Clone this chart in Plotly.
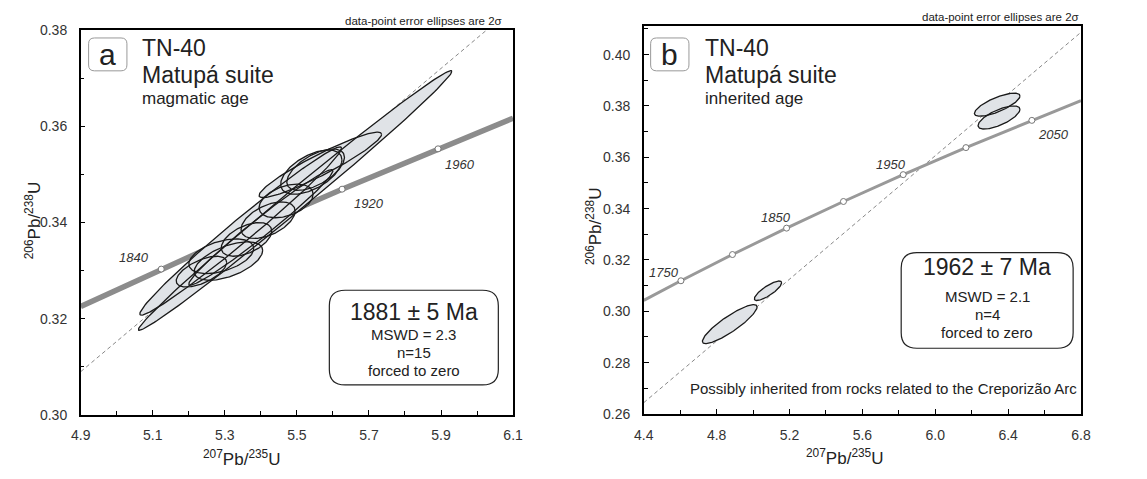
import numpy as np
import plotly.graph_objects as go

W, H = 1147, 479

# ---------------- DATA ----------------
# Panel a: ellipse centres (207Pb/235U, 206Pb/238U), half-extents (2 sigma) and error correlation
a_x   = [5.495, 5.344, 5.400, 5.565, 5.540, 5.552, 5.470, 5.420, 5.360, 5.290, 5.310, 5.235]
a_ex  = [0.435, 0.280, 0.200, 0.170, 0.085, 0.080, 0.075, 0.075, 0.070, 0.090, 0.095, 0.070]
a_y   = [0.3446, 0.33825, 0.3390, 0.3520, 0.3505, 0.3510, 0.3445, 0.3405, 0.3365, 0.3330, 0.3320, 0.3298]
a_ey  = [0.0270, 0.0175, 0.0120, 0.0068, 0.0046, 0.0043, 0.0035, 0.0038, 0.0035, 0.0036, 0.0040, 0.0032]
a_rho = [0.9946, 0.985, 0.98, 0.935, 0.55, 0.60, 0.40, 0.50, 0.50, 0.45, 0.55, 0.60]

# Panel b ellipses
b_x   = [4.872, 5.082, 6.350, 6.340]
b_ex  = [0.150, 0.075, 0.115, 0.125]
b_y   = [0.2950, 0.3080, 0.3755, 0.3805]
b_ey  = [0.0076, 0.0038, 0.0045, 0.0045]
b_rho = [0.88, 0.82, 0.70, 0.75]

# Concordia curve points (207Pb/235U, 206Pb/238U)
conc_a_x = [4.9, 5.1234, 5.3695, 5.6254, 5.8917, 6.1]
conc_a_y = [0.32257, 0.33033, 0.33862, 0.34695, 0.35534, 0.36170]
conc_b_x = [4.4, 4.6040, 4.8869, 5.1840, 5.4962, 5.8241, 6.1685, 6.5304, 6.8]
conc_b_y = [0.30425, 0.31189, 0.32211, 0.33240, 0.34278, 0.35323, 0.36377, 0.37438, 0.38202]

# Concordia age ticks
tick_a_age = [1840, 1880, 1920, 1960]
tick_a_x = [5.1234, 5.3695, 5.6254, 5.8917]
tick_a_y = [0.33033, 0.33862, 0.34695, 0.35534]
tick_b_age = [1750, 1800, 1850, 1900, 1950, 2000, 2050]
tick_b_x = [4.6040, 4.8869, 5.1840, 5.4962, 5.8241, 6.1685, 6.5304]
tick_b_y = [0.31189, 0.32211, 0.33240, 0.34278, 0.35323, 0.36377, 0.37438]
label_a_ages = [1840, 1920, 1960]
label_b_ages = [1750, 1850, 1950, 2050]

# Discordia (forced through zero)
disc_a_x = [4.9, 6.026]
disc_a_y = [0.3090, 0.3800]
disc_b_x = [4.4, 6.8]
disc_b_y = [0.2644, 0.4087]

FONT = "Liberation Sans, Arial, sans-serif"
FILL = "#e0e3e7"

def ell(cx, cy, ex, ey, rho, n=160):
    t = np.linspace(0, 2 * np.pi, n)
    x = cx + ex * np.cos(t)
    y = cy + ey * (rho * np.cos(t) + np.sqrt(1 - rho ** 2) * np.sin(t))
    return x, y

fig = go.Figure()

def panel(xs, exs, ys, eys, rhos, cx, cy, tx, ty, dx, dy, xa, ya, cw, ccol):
    fig.add_trace(go.Scatter(x=dx, y=dy, mode="lines", xaxis=xa, yaxis=ya,
                             line=dict(color="#888", width=1, dash="4px,3px"), hoverinfo="skip"))
    fig.add_trace(go.Scatter(x=cx, y=cy, mode="lines", xaxis=xa, yaxis=ya,
                             line=dict(color=ccol, width=cw), hoverinfo="skip"))
    fig.add_trace(go.Scatter(x=tx, y=ty, mode="markers", xaxis=xa, yaxis=ya,
                             marker=dict(symbol="circle", size=6, color="white",
                                         line=dict(color="#777", width=1)), hoverinfo="skip"))
    for i in range(len(xs)):
        ex_, ey_ = ell(xs[i], ys[i], exs[i], eys[i], rhos[i])
        fig.add_trace(go.Scatter(x=ex_, y=ey_, mode="lines", fill="toself", fillcolor=FILL,
                                 line=dict(width=0), xaxis=xa, yaxis=ya, hoverinfo="skip"))
    for i in range(len(xs)):
        ex_, ey_ = ell(xs[i], ys[i], exs[i], eys[i], rhos[i])
        fig.add_trace(go.Scatter(x=ex_, y=ey_, mode="lines",
                                 line=dict(width=1.3, color="#1a1a1a"), xaxis=xa, yaxis=ya, hoverinfo="skip"))

panel(a_x, a_ex, a_y, a_ey, a_rho, conc_a_x, conc_a_y, tick_a_x, tick_a_y,
      disc_a_x, disc_a_y, "x", "y", 5.5, "#8c8c8c")
panel(b_x, b_ex, b_y, b_ey, b_rho, conc_b_x, conc_b_y, tick_b_x, tick_b_y,
      disc_b_x, disc_b_y, "x2", "y2", 3, "#999999")

def px(x):
    return x / W

def py(y):
    return 1 - y / H

def axis(dom, rng, dtick, minor, fmt, standoff):
    return dict(domain=dom, range=rng, dtick=dtick, tick0=rng[0], tickformat=fmt,
                ticks="inside", ticklen=5, tickcolor="black", tickwidth=1,
                minor=dict(dtick=minor, ticks="inside", ticklen=4, tickcolor="black", tickwidth=1),
                showline=True, mirror=True, linecolor="black", linewidth=1.5,
                showgrid=False, zeroline=False,
                tickfont=dict(family=FONT, size=14, color="#333"), ticklabelstandoff=standoff)

fig.update_layout(
    width=W, height=H, margin=dict(l=0, r=0, t=0, b=0),
    paper_bgcolor="white", plot_bgcolor="white", showlegend=False,
    xaxis=axis([px(72), px(512)], [4.9, 6.1], 0.2, 0.1, ".1f", 7),
    yaxis=axis([py(421), py(23)], [0.30, 0.38], 0.02, 0.01, ".2f", 9),
    xaxis2=axis([px(645), px(1090)], [4.4, 6.8], 0.4, 0.2, ".1f", 7),
    yaxis2=axis([py(420), py(19)], [0.26, 0.411], 0.02, 0.01, ".2f", 9),
)
fig.layout.xaxis2.anchor = "y2"
fig.layout.yaxis2.anchor = "x2"

def rrect(x0, y0, x1, y1, r, color, width):
    def P(x, y):
        return f"{px(x):.5f},{py(y):.5f}"
    d = (f"M {P(x0+r, y0)} L {P(x1-r, y0)} Q {P(x1, y0)} {P(x1, y0+r)} "
         f"L {P(x1, y1-r)} Q {P(x1, y1)} {P(x1-r, y1)} L {P(x0+r, y1)} "
         f"Q {P(x0, y1)} {P(x0, y1-r)} L {P(x0, y0+r)} Q {P(x0, y0)} {P(x0+r, y0)} Z")
    return dict(type="path", xref="paper", yref="paper", path=d,
                line=dict(color=color, width=width), fillcolor="white", layer="above")

shapes = [
    rrect(80, 31, 119, 65, 6, "#999", 1),
    rrect(652, 31, 691, 65, 6, "#999", 1),
    rrect(325, 292, 497, 390, 16, "#222", 1.2),
    rrect(907, 253, 1082, 352, 16, "#222", 1.2),
]
fig.update_layout(shapes=shapes)

ann = []
def txt(x, y, s, size, xanchor="left", italic=False, color="#222", angle=0):
    ann.append(dict(x=px(x), y=py(y), xref="paper", yref="paper", text=s, showarrow=False,
                    xanchor=xanchor, yanchor="middle", textangle=angle,
                    font=dict(family=FONT, size=size, color=color,
                              style="italic" if italic else "normal")))

# Panel letters and titles
txt(99.5, 48, "a", 30, "center")
txt(671.5, 48, "b", 30, "center")
for x0, sub in [(132, "magmatic age"), (705, "inherited age")]:
    txt(x0, 41, "TN-40", 23)
    txt(x0, 69, "Matupá suite", 23)
    txt(x0, 94, sub, 17)

txt(503, 13, "data-point error ellipses are 2σ", 11.5, "right")
txt(1090, 9, "data-point error ellipses are 2σ", 11.5, "right")

# Age boxes
txt(411, 314, "1881 ± 5 Ma", 23, "center")
txt(411, 338, "MSWD = 2.3", 15, "center")
txt(411, 356, "n=15", 15, "center")
txt(411, 375, "forced to zero", 15, "center")
txt(994.5, 268, "1962 ± 7 Ma", 23, "center")
txt(994.5, 298, "MSWD = 2.1", 15, "center")
txt(994.5, 317, "n=4", 15, "center")
txt(994.5, 336, "forced to zero", 15, "center")

txt(1088, 394, "Possibly inherited from rocks related to the Creporizão Arc", 15, "right")

# Axis titles
txt(236, 466, "<sup>207</sup>Pb/<sup>235</sup>U", 17, "center")
txt(850, 464, "<sup>207</sup>Pb/<sup>235</sup>U", 17, "center")
txt(23, 220, "<sup>206</sup>Pb/<sup>238</sup>U", 17, "center", angle=-90)
txt(595, 226, "<sup>206</sup>Pb/<sup>238</sup>U", 17, "center", angle=-90)

# Concordia age labels (data coordinates with pixel offsets)
offs_a = {1840: (-27, 12), 1920: (27, -14), 1960: (22, -16)}
for age in label_a_ages:
    i = tick_a_age.index(age)
    ann.append(dict(x=tick_a_x[i], y=tick_a_y[i], xref="x", yref="y", text=str(age),
                    showarrow=False, xshift=offs_a[age][0], yshift=offs_a[age][1],
                    font=dict(family=FONT, size=13, color="#333", style="italic")))
offs_b = {1750: (-17, 8), 1850: (-11, 11), 1950: (-12, 10), 2050: (22, -14)}
for age in label_b_ages:
    i = tick_b_age.index(age)
    ann.append(dict(x=tick_b_x[i], y=tick_b_y[i], xref="x2", yref="y2", text=str(age),
                    showarrow=False, xshift=offs_b[age][0], yshift=offs_b[age][1],
                    font=dict(family=FONT, size=13, color="#333", style="italic")))

fig.update_layout(annotations=ann)
fig.write_html("out.html")
